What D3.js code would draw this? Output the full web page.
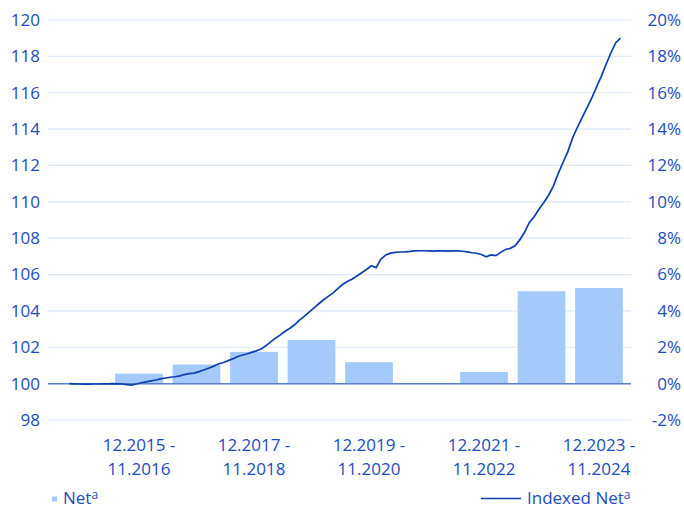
<!DOCTYPE html>
<html>
<head>
<meta charset="utf-8">
<script src="https://cdn.jsdelivr.net/npm/d3@7"></script>
<style>
  body { margin: 0; background: #fff; }
  svg text { font-family: "Open Sans", sans-serif; fill: #1c4cc0; }
</style>
</head>
<body>
<svg></svg>
<script>
const width = 684;
const height = 509;

// periods (12 months each), net change in % (right axis)
const periods = [
  "12.2014 - 11.2015", "12.2015 - 11.2016", "12.2016 - 11.2017", "12.2017 - 11.2018",
  "12.2018 - 11.2019", "12.2019 - 11.2020", "12.2020 - 11.2021", "12.2021 - 11.2022",
  "12.2022 - 11.2023", "12.2023 - 11.2024"
];
const netPct = [0, 0.55, 1.05, 1.75, 2.4, 1.18, 0, 0.64, 5.08, 5.26];

// indexed net, monthly, 03.2015 .. 10.2024 (left axis)
const lineStart = new Date(2015, 2, 1);
const indexed = [
  100.00, 99.99, 99.98, 99.97, 99.97, 99.98, 99.98, 99.99, 99.99, 100.00,
  99.99, 99.98, 99.95, 99.92, 99.98, 100.05, 100.10, 100.15, 100.20, 100.26,
  100.31, 100.35, 100.38, 100.43, 100.50, 100.55, 100.58, 100.66, 100.75, 100.85,
  100.95, 101.08, 101.15, 101.25, 101.36, 101.48, 101.56, 101.63, 101.72, 101.80,
  101.90, 102.08, 102.30, 102.50, 102.68, 102.88, 103.05, 103.25, 103.48, 103.70,
  103.92, 104.15, 104.38, 104.60, 104.80, 104.98, 105.22, 105.45, 105.62, 105.76,
  105.92, 106.10, 106.28, 106.48, 106.38, 106.85, 107.08, 107.18, 107.22, 107.24,
  107.25, 107.27, 107.30, 107.31, 107.31, 107.30, 107.29, 107.30, 107.30, 107.29,
  107.30, 107.30, 107.28, 107.25, 107.20, 107.17, 107.10, 106.98, 107.08, 107.04,
  107.22, 107.38, 107.44, 107.58, 107.92, 108.35, 108.85, 109.18, 109.58, 109.95,
  110.35, 110.85, 111.55, 112.15, 112.75, 113.50, 114.10, 114.65, 115.15, 115.70,
  116.30, 116.90, 117.55, 118.20, 118.75, 119.00
];

const leftTicks = d3.range(98, 121, 2);
const rightTicks = d3.range(-2, 21, 2);

const svg = d3.select("svg")
  .attr("width", width)
  .attr("height", height);

const x = d3.scaleBand()
  .domain(periods)
  .range([52.75, 627.75])
  .paddingInner(0.17)
  .paddingOuter(0.085);

const xTime = d3.scaleTime()
  .domain([new Date(2014, 11, 1), new Date(2024, 11, 1)])
  .range([52.75, 627.75]);

const yLeft = d3.scaleLinear().domain([98, 120]).range([420, 20]);
const yRight = d3.scaleLinear().domain([-2, 20]).range([420, 20]);

// grid
svg.append("g")
  .selectAll("line")
  .data(leftTicks)
  .join("line")
  .attr("x1", 48)
  .attr("x2", 631)
  .attr("y1", d => yLeft(d))
  .attr("y2", d => yLeft(d))
  .attr("stroke", "#dce8fa")
  .attr("stroke-width", 1.2);

// left labels
svg.append("g")
  .selectAll("text")
  .data(leftTicks)
  .join("text")
  .attr("x", 40)
  .attr("y", d => yLeft(d))
  .attr("dy", "0.35em")
  .attr("text-anchor", "end")
  .style("font-size", "17px")
  .text(d => d);

// right labels
svg.append("g")
  .selectAll("text")
  .data(rightTicks)
  .join("text")
  .attr("x", 681)
  .attr("y", d => yRight(d))
  .attr("dy", "0.35em")
  .attr("text-anchor", "end")
  .style("font-size", "17px")
  .text(d => d + "%");

// bars
svg.append("g")
  .selectAll("rect")
  .data(periods)
  .join("rect")
  .attr("x", d => x(d))
  .attr("width", x.bandwidth())
  .attr("y", (d, i) => yRight(Math.max(0, netPct[i])))
  .attr("height", (d, i) => Math.abs(yRight(netPct[i]) - yRight(0)))
  .attr("fill", "#a4c9fb");

// zero line
svg.append("line")
  .attr("x1", 48)
  .attr("x2", 631)
  .attr("y1", yRight(0))
  .attr("y2", yRight(0))
  .attr("stroke", "#5b80c8")
  .attr("stroke-width", 1.5);

// indexed line (mid-month points)
const line = d3.line()
  .x((d, i) => xTime(new Date(lineStart.getFullYear(), lineStart.getMonth() + i, 16)))
  .y(d => yLeft(d));

svg.append("path")
  .datum(indexed)
  .attr("d", line)
  .attr("fill", "none")
  .attr("stroke", "#0a3fad")
  .attr("stroke-width", 1.7);

// x labels, every second period
const xl = svg.append("g")
  .selectAll("text")
  .data(periods.filter((d, i) => i % 2 === 1))
  .join("text")
  .attr("x", d => x(d) + x.bandwidth() / 2)
  .attr("y", 451)
  .attr("text-anchor", "middle")
  .style("font-size", "17px");

xl.append("tspan")
  .attr("x", d => x(d) + x.bandwidth() / 2)
  .text(d => d.split(" - ")[0] + " -");
xl.append("tspan")
  .attr("x", d => x(d) + x.bandwidth() / 2)
  .attr("dy", 23.5)
  .text(d => d.split(" - ")[1]);

// legend
const legend = svg.append("g");
legend.append("rect")
  .attr("x", 52)
  .attr("y", 496.5)
  .attr("width", 5)
  .attr("height", 5)
  .attr("fill", "#a4c9fb");
const t1 = legend.append("text")
  .attr("x", 63)
  .attr("y", 504)
  .style("font-size", "17px")
  .text("Net");
t1.append("tspan")
  .attr("dy", -5)
  .style("font-size", "12px")
  .text("a");

legend.append("line")
  .attr("x1", 481)
  .attr("x2", 521)
  .attr("y1", 498.5)
  .attr("y2", 498.5)
  .attr("stroke", "#0a3fad")
  .attr("stroke-width", 1.7);
const t2 = legend.append("text")
  .attr("x", 527)
  .attr("y", 504)
  .style("font-size", "17px")
  .text("Indexed Net");
t2.append("tspan")
  .attr("dy", -5)
  .style("font-size", "12px")
  .text("a");
</script>
</body>
</html>
